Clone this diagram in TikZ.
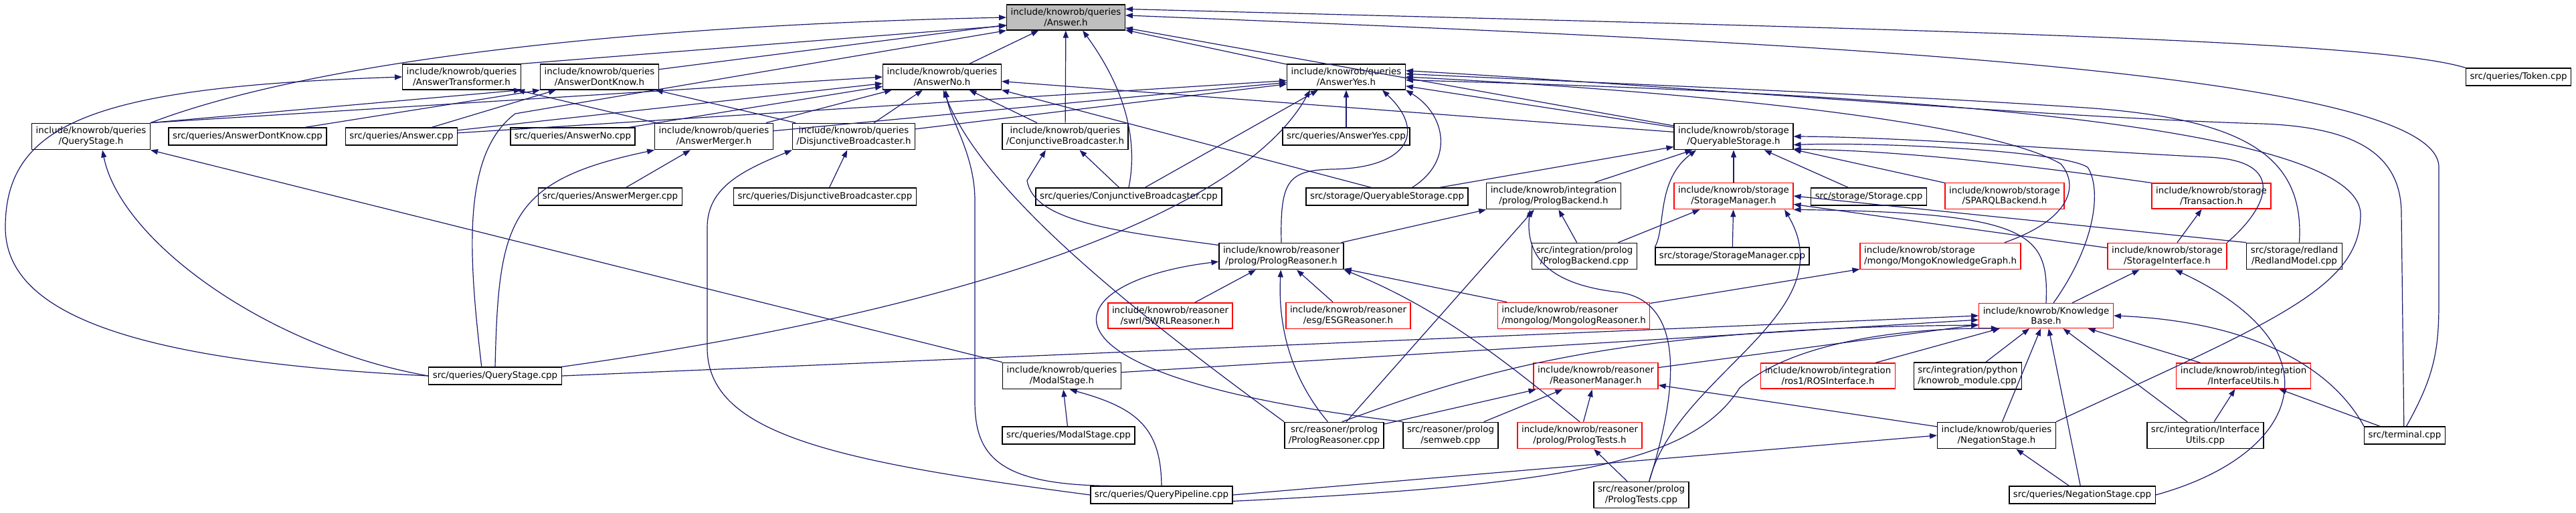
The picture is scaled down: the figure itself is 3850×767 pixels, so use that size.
\documentclass[tikz,border=0pt]{standalone}
\usepackage{fontspec}
\setmainfont{DejaVu Sans}
\usetikzlibrary{arrows.meta,positioning}
\definecolor{edgeblue}{HTML}{191970}
\definecolor{boxgray}{HTML}{BFBFBF}

\begin{document}
\begin{tikzpicture}[x=1pt,y=-1pt,
	file/.style={draw=black,
	fill=white,
	line width=1.3pt,
	align=center,
	inner xsep=6pt,
	inner ysep=5.5pt,
	minimum height=26pt,
	font=\fontsize{13.4}{15.5}\selectfont},
	redfile/.style={file, draw=red},
	focus/.style={file, fill=boxgray},
	dep/.style={draw=edgeblue, line width=1.2pt, -{Triangle[length=11pt,width=8pt]}}]

	\useasboundingbox (0,0) rectangle (3850,767);

	% row 1
	\node[focus] (ans) at (1593,26) {include/knowrob/queries\\/Answer.h};

	% row 2
	\node[file] (atr) at (690,115) {include/knowrob/queries\\/AnswerTransformer.h};
	\node[file] (adk) at (896,115) {include/knowrob/queries\\/AnswerDontKnow.h};
	\node[file] (ano) at (1408,115) {include/knowrob/queries\\/AnswerNo.h};
	\node[file] (ayes) at (2012,115) {include/knowrob/queries\\/AnswerYes.h};
	\node[file] (tok) at (3764,115) {src/queries/Token.cpp};

	% row 3
	\node[file] (qsh) at (136,204) {include/knowrob/queries\\/QueryStage.h};
	\node[file] (adkc) at (370,204) {src/queries/AnswerDontKnow.cpp};
	\node[file] (ansc) at (600,204) {src/queries/Answer.cpp};
	\node[file] (anoc) at (856,204) {src/queries/AnswerNo.cpp};
	\node[file] (amh) at (1067,204) {include/knowrob/queries\\/AnswerMerger.h};
	\node[file] (dbh) at (1276,204) {include/knowrob/queries\\/DisjunctiveBroadcaster.h};
	\node[file] (cbh) at (1592,204) {include/knowrob/queries\\/ConjunctiveBroadcaster.h};
	\node[file] (ayesc) at (2012,204) {src/queries/AnswerYes.cpp};
	\node[file] (qsto) at (2591,204) {include/knowrob/storage\\/QueryableStorage.h};

	% row 4
	\node[file] (amc) at (912,294) {src/queries/AnswerMerger.cpp};
	\node[file] (dbc) at (1233,294) {src/queries/DisjunctiveBroadcaster.cpp};
	\node[file] (cbc) at (1687,294) {src/queries/ConjunctiveBroadcaster.cpp};
	\node[file] (qstoc) at (2073,294) {src/storage/QueryableStorage.cpp};
	\node[file] (pbh) at (2322,293) {include/knowrob/integration\\/prolog/PrologBackend.h};
	\node[redfile] (smh) at (2591,293) {include/knowrob/storage\\/StorageManager.h};
	\node[file] (stoc) at (2793,294) {src/storage/Storage.cpp};
	\node[redfile] (sparql) at (2996,293) {include/knowrob/storage\\/SPARQLBackend.h};
	\node[redfile] (trans) at (3305,293) {include/knowrob/storage\\/Transaction.h};

	% row 5
	\node[file] (prh) at (1915,383) {include/knowrob/reasoner\\/prolog/PrologReasoner.h};
	\node[file] (pbc) at (2368,383) {src/integration/prolog\\/PrologBackend.cpp};
	\node[file] (smc) at (2589,383) {src/storage/StorageManager.cpp};
	\node[redfile, align=left] (mkg) at (2900,383) {include/knowrob/storage\\/mongo/MongoKnowledgeGraph.h};
	\node[redfile] (sih) at (3239,383) {include/knowrob/storage\\/StorageInterface.h};
	\node[file] (rdl) at (3429,383) {src/storage/redland\\/RedlandModel.cpp};

	% row 6
	\node[redfile] (swrl) at (1749,472) {include/knowrob/reasoner\\/swrl/SWRLReasoner.h};
	\node[redfile] (esg) at (2015,472) {include/knowrob/reasoner\\/esg/ESGReasoner.h};
	\node[redfile, align=left] (mlg) at (2352,472) {include/knowrob/reasoner\\/mongolog/MongologReasoner.h};
	\node[redfile] (kb) at (3058,472) {include/knowrob/Knowledge\\Base.h};

	% row 7
	\node[file] (qsc) at (740,562) {src/queries/QueryStage.cpp};
	\node[file] (msh) at (1587,562) {include/knowrob/queries\\/ModalStage.h};
	\node[redfile] (rmh) at (2385,562) {include/knowrob/reasoner\\/ReasonerManager.h};
	\node[redfile] (ros) at (2732,562) {include/knowrob/integration\\/ros1/ROSInterface.h};
	\node[file, align=left] (kbm) at (2941,562) {src/integration/python\\/knowrob\_module.cpp};
	\node[redfile] (iuh) at (3353,562) {include/knowrob/integration\\/InterfaceUtils.h};

	% row 8
	\node[file] (msc) at (1597,651) {src/queries/ModalStage.cpp};
	\node[file] (prc) at (1994,651) {src/reasoner/prolog\\/PrologReasoner.cpp};
	\node[file] (sw) at (2168,651) {src/reasoner/prolog\\/semweb.cpp};
	\node[redfile] (pth) at (2361,651) {include/knowrob/reasoner\\/prolog/PrologTests.h};
	\node[file] (nsh) at (2984,651) {include/knowrob/queries\\/NegationStage.h};
	\node[file] (iuc) at (3296,651) {src/integration/Interface\\Utils.cpp};
	\node[file] (term) at (3594,651) {src/terminal.cpp};

	% row 9
	\node[file] (qpc) at (1736,740) {src/queries/QueryPipeline.cpp};
	\node[file] (ptc) at (2453,740) {src/reasoner/prolog\\/PrologTests.cpp};
	\node[file] (nsc) at (3112,740) {src/queries/NegationStage.cpp};

	% into Answer.h
	\draw[dep] (qsh.north east) .. controls (430,105) and (850,40) .. (ans.west);
	\draw[dep] (atr.north east) -- (ans.188);
	\draw[dep] (adk) -- (ans);
	\draw[dep] (qsc.146) .. controls (700,380) and (690,230) .. (770,170) -- (ans.south west);
	\draw[dep] (ano) -- (ans);
	\draw[dep] (cbh) -- (ans);
	\draw[dep] (cbc.north) .. controls (1705,190) and (1665,110) .. (ans.322);
	\draw[dep] (ayes) -- (ans);
	\draw[dep] (qsto) -- (ans);
	\draw[dep] (tok.north west) .. controls (3550,60) and (2900,45) .. (ans.8);
	\draw[dep] (term.80) .. controls (3640,560) and (3645,520) .. (3645,450) -- (3645,250) .. controls (3645,100) and (2600,60) .. (ans.2);

	% into the answer headers
	\draw[dep] (qsc.west) .. controls (200,540) and (8,470) .. (8,340) .. controls (8,180) and (150,130) .. (atr.west);
	\draw[dep] (qsh.north east) -- (atr.south east);
	\draw[dep] (amh) -- (atr);
	\draw[dep] (adkc) -- (adk.south west);
	\draw[dep] (ansc) -- (adk);
	\draw[dep] (dbh) -- (adk);
	\draw[dep] (qsh.north east) -- (ano.west);
	\draw[dep] (ansc) -- (ano);
	\draw[dep] (anoc) -- (ano);
	\draw[dep] (amh) -- (ano);
	\draw[dep] (dbh) -- (ano);
	\draw[dep] (cbh) -- (ano);
	\draw[dep] (qpc.170) .. controls (1490,725) and (1457,680) .. (1457,600) -- (1457,300) .. controls (1457,230) and (1420,180) .. (ano.285);
	\draw[dep] (prc.north west) .. controls (1700,470) and (1470,290) .. (ano.275);
	\draw[dep] (qsto) -- (ano);
	\draw[dep] (qstoc.150) -- (ano.south east);
	\draw[dep] (ansc) -- (ayes);
	\draw[dep] (amh) -- (ayes);
	\draw[dep] (dbh) -- (ayes);
	\draw[dep] (cbc) -- (ayes.205);
	\draw[dep] (qsc.north east) .. controls (1400,470) and (1850,330) .. (ayes.200);
	\draw[dep] (ayesc) -- (ayes);
	\draw[dep] (prh.north) .. controls (1913,270) and (1925,255) .. (1990,253) .. controls (2100,252) and (2135,200) .. (ayes.340);
	\draw[dep] (qstoc.20) .. controls (2175,240) and (2160,170) .. (ayes.south east);
	\draw[dep] (qsto) -- (ayes);
	\draw[dep] (mkg.12) .. controls (3090,330) and (3110,280) .. (3080,245) .. controls (2950,170) and (2400,130) .. (ayes.east);
	\draw[dep] (rdl.70) .. controls (3445,230) and (3350,175) .. (3100,160) .. controls (2800,140) and (2300,120) .. (ayes.3);
	\draw[dep] (nsh.north east) .. controls (3400,480) and (3528,430) .. (3528,320) .. controls (3525,170) and (2650,135) .. (ayes.357);
	\draw[dep] (term.95) -- (3589,320) .. controls (3589,230) and (3520,190) .. (3380,185) .. controls (3050,175) and (2450,125) .. (ayes.6);

	% broadcasters, merger, stages
	\draw[dep] (qsc.north) .. controls (745,330) and (760,270) .. (amh.south west);
	\draw[dep] (amc) -- (amh);
	\draw[dep] (qpc.west) .. controls (1250,690) and (1057,650) .. (1057,520) -- (1057,340) .. controls (1057,280) and (1110,255) .. (dbh.south west);
	\draw[dep] (dbc) -- (dbh);
	\draw[dep] (cbc) -- (cbh);
	\draw[dep] (prh.170) .. controls (1660,345) and (1545,330) .. (1535,270) -- (cbh.215);
	\draw[dep] (qsc.west) .. controls (400,520) and (180,360) .. (qsh.310);
	\draw[dep] (msh.north west) -- (qsh.south east);
	\draw[dep] (msc) -- (msh);
	\draw[dep] (qpc.north) .. controls (1735,640) and (1700,610) .. (msh.300);
	\draw[dep] (qpc.east) -- (nsh.west);
	\draw[dep] (nsc) -- (nsh);

	% storage
	\draw[dep] (qstoc) -- (qsto);
	\draw[dep] (pbh) -- (qsto);
	\draw[dep] (smh) -- (qsto);
	\draw[dep] (smc.north west) .. controls (2490,340) and (2475,270) .. (qsto.200);
	\draw[dep] (stoc) -- (qsto);
	\draw[dep] (sparql) -- (qsto);
	\draw[dep] (trans.north west) .. controls (3050,250) and (2850,225) .. (qsto.348);
	\draw[dep] (kb.60) .. controls (3135,360) and (3140,280) .. (3120,250) .. controls (3080,225) and (2800,212) .. (qsto.352);
	\draw[dep] (sih.north east) .. controls (3390,310) and (3420,240) .. (3300,235) .. controls (3100,225) and (2850,205) .. (qsto.east);
	\draw[dep] (pbc) -- (smh);
	\draw[dep] (smc) -- (smh);
	\draw[dep] (ptc.60) .. controls (2505,560) and (2760,470) .. (smh.345);
	\draw[dep] (sih) -- (smh);
	\draw[dep] (rdl.north west) -- (smh.east);
	\draw[dep] (kb.north) .. controls (3062,350) and (3040,318) .. (smh.south east);
	\draw[dep] (sih) -- (trans);
	\draw[dep] (kb) -- (sih);
	\draw[dep] (nsc.east) .. controls (3440,680) and (3500,520) .. (sih.300);
	\draw[dep] (mlg) -- (mkg);

	% prolog
	\draw[dep] (prh) -- (pbh.south west);
	\draw[dep] (prc) -- (pbh.215);
	\draw[dep] (pbc) -- (pbh.290);
	\draw[dep] (ptc.60) .. controls (2515,560) and (2510,450) .. (2420,437) .. controls (2310,425) and (2280,380) .. (pbh.210);
	\draw[dep] (swrl) -- (prh);
	\draw[dep] (esg) -- (prh);
	\draw[dep] (mlg) -- (prh);
	\draw[dep] (prc.115) .. controls (1925,560) and (1910,480) .. (prh.268);
	\draw[dep] (sw.north west) .. controls (1500,560) and (1580,420) .. (prh.185);
	\draw[dep] (pth.north) .. controls (2250,540) and (2150,460) .. (prh.south east);
	\draw[dep] (prc) -- (rmh);
	\draw[dep] (sw) -- (rmh);
	\draw[dep] (pth) -- (rmh);
	\draw[dep] (nsh) -- (rmh);
	\draw[dep] (ptc) -- (pth);

	% into KnowledgeBase.h
	\draw[dep] (qsc.east) -- (kb.west);
	\draw[dep] (msh) -- (kb);
	\draw[dep] (rmh) -- (kb);
	\draw[dep] (prc.60) .. controls (2200,560) and (2400,490) .. (kb.188);
	\draw[dep] (qpc.-5) .. controls (2350,725) and (2530,690) .. (2600,580) .. controls (2680,510) and (2850,490) .. (kb.195);
	\draw[dep] (ros) -- (kb);
	\draw[dep] (kbm) -- (kb);
	\draw[dep] (nsh) -- (kb);
	\draw[dep] (nsc) -- (kb);
	\draw[dep] (iuc) -- (kb);
	\draw[dep] (iuh) -- (kb);
	\draw[dep] (term.north west) .. controls (3480,540) and (3350,480) .. (kb.east);
	\draw[dep] (iuc) -- (iuh);
	\draw[dep] (term) -- (iuh);

\end{tikzpicture}
\end{document}
